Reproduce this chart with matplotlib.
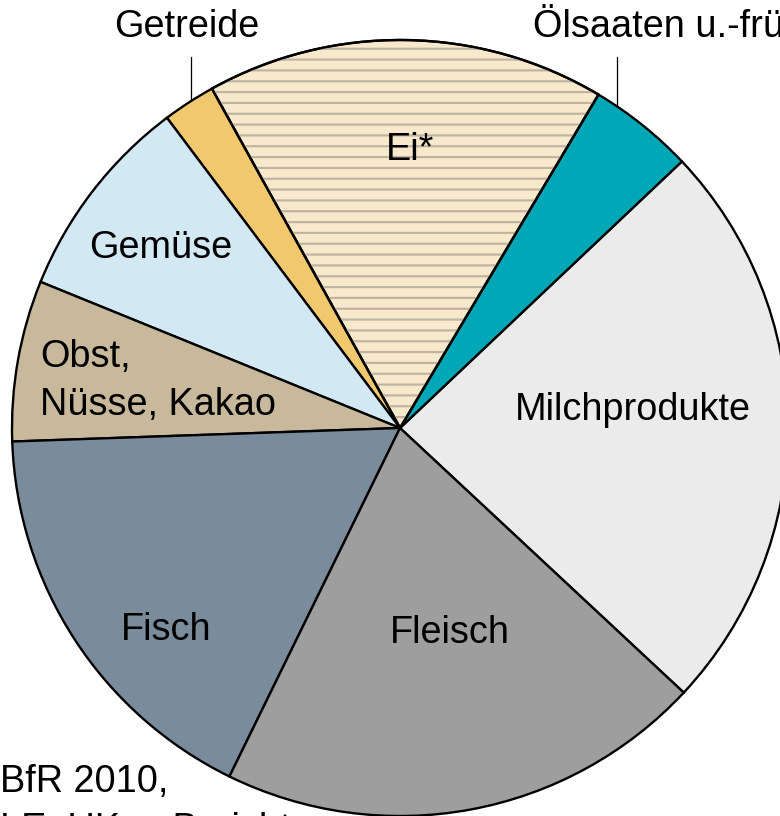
import matplotlib
matplotlib.use("Agg")
import matplotlib.pyplot as plt
from matplotlib.patches import Wedge

# ---- data ----
categories = ["Milchprodukte", "Ölsaaten u.-früchte", "Ei*", "Getreide", "Gemüse",
              "Obst, Nüsse, Kakao", "Fisch", "Fleisch"]
shares = [24.0, 4.4, 16.6, 2.2, 8.6, 6.7, 17.2, 20.3]
colors = ["#EBEBEB", "#00A8B7", "#F8E9CC", "#F2C86E", "#D2E9F4", "#C8B99C", "#7A8C9C", "#9D9E9D"]
source_lines = ["BfR 2010,", "LE: UKm, Bericht"]

DPI = 65
W, H = 780, 816
plt.rcParams['font.family'] = ['Liberation Sans', 'DejaVu Sans']
plt.rcParams['hatch.linewidth'] = 2.4

fig = plt.figure(figsize=(W / DPI, H / DPI), dpi=DPI)
ax = fig.add_axes([0, 0, 1, 1])

cx, cy, R = 400, H - 428, 388
wedges, _ = ax.pie(shares, colors=colors, startangle=-43, counterclock=True,
                   center=(cx, cy), radius=R, frame=True,
                   wedgeprops=dict(edgecolor='black', linewidth=2.6))
ax.set_xlim(0, W)
ax.set_ylim(0, H)
ax.set_aspect('equal')
ax.axis('off')

# hatching on "Ei*"
ei = wedges[2]
hatch = Wedge(ei.center, ei.r, ei.theta1, ei.theta2, facecolor='none',
              edgecolor='#BFB4A2', linewidth=0, hatch='-', zorder=ei.get_zorder() + 0.1)
ax.add_patch(hatch)
outline = Wedge(ei.center, ei.r, ei.theta1, ei.theta2, facecolor='none',
                edgecolor='black', linewidth=2.6, zorder=ei.get_zorder() + 0.2)
ax.add_patch(outline)

fs = 42
def T(x, y, s, ha='center'):
    ax.text(x, H - y, s, fontsize=fs, ha=ha, va='baseline', color='black', zorder=5)

T(410, 160, categories[2])
T(633, 420, categories[0])
T(450, 643, categories[7])
T(166, 640, categories[6])
T(161, 258, categories[4])
T(40, 367, "Obst,", ha='left')
T(40, 415, "Nüsse, Kakao", ha='left')
T(187, 37, categories[3])
T(533, 37, categories[1], ha='left')

# leader lines
ax.plot([191, 191], [H - 57, H - 100], color='black', lw=1.4, zorder=4)
ax.plot([617, 617], [H - 57, H - 106], color='black', lw=1.4, zorder=4)

# source
T(0, 792, source_lines[0], ha='left')
T(0, 840, source_lines[1], ha='left')

fig.savefig("out.png", dpi=DPI)
